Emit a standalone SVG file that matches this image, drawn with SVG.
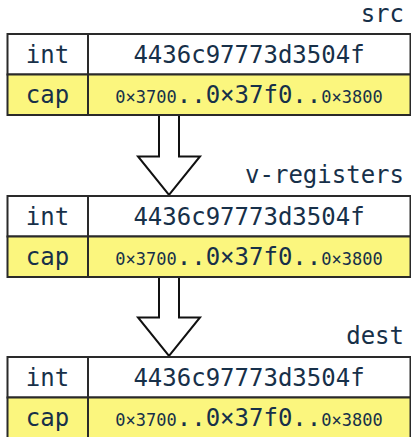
<svg xmlns="http://www.w3.org/2000/svg" width="411" height="437" viewBox="0 0 411 437">
<style>
.t{font-family:"DejaVu Sans Mono","Liberation Mono",monospace;fill:#173049}
.b{fill:#fff;stroke:#2a2a2a;stroke-width:2}
.y{fill:#fbf67e;stroke:#2a2a2a;stroke-width:2}
.lbl{font-size:24px;text-anchor:end}
.c{font-size:24px;text-anchor:middle}
.s{font-size:17px}
.L{font-size:24px}
.ar{fill:#fff;stroke:#111;stroke-width:2;stroke-linejoin:miter}
</style>
<defs>
<g id="reg">
<rect class="b" x="7.5" y="0" width="403" height="40.5"/>
<rect class="y" x="7.5" y="40.5" width="403" height="40.5"/>
<line x1="88" y1="0" x2="88" y2="81" stroke="#2a2a2a" stroke-width="2"/>
<text class="t c" x="47.5" y="28.5">int</text>
<text class="t c" x="249" y="28.5">4436c97773d3504f</text>
<text class="t c" x="47.5" y="69">cap</text>
<text class="t c" x="249" y="69"><tspan class="s">0×3700</tspan><tspan class="L">..0×37f0..</tspan><tspan class="s">0×3800</tspan></text>
</g>
</defs>
<g id="connectors">
<path class="ar" d="M159,115 V156.5 H138 L169,195 L200,156.5 H179 V115"/>
<path class="ar" d="M159,277 V317.5 H138 L169,356 L200,317.5 H179 V277"/>
</g>
<g id="src">
<text class="t lbl" x="404" y="22">src</text>
<use href="#reg" x="0" y="34"/>
</g>
<g id="v-registers">
<text class="t lbl" x="404" y="183">v-registers</text>
<use href="#reg" x="0" y="196"/>
</g>
<g id="dest">
<text class="t lbl" x="404" y="344">dest</text>
<use href="#reg" x="0" y="357"/>
</g>
</svg>
